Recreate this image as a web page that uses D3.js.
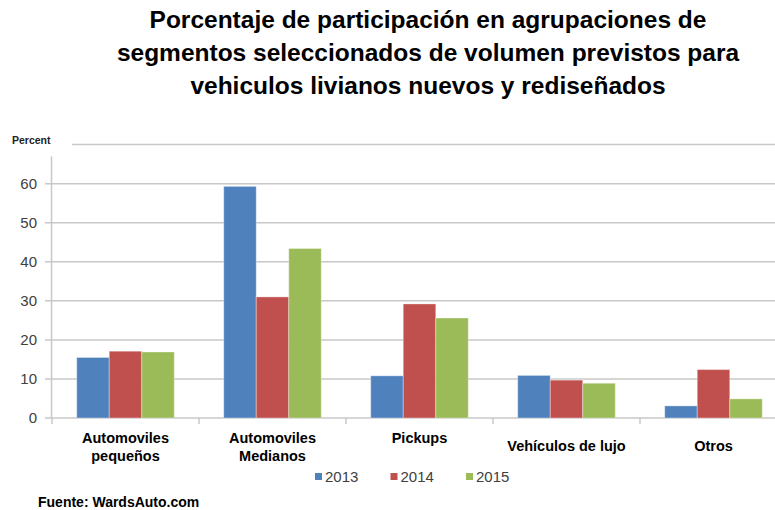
<!DOCTYPE html>
<html lang="es">
<head>
<meta charset="UTF-8">
<title>Porcentaje de participación</title>
<script src="https://d3js.org/d3.v7.min.js"></script>
<style>
  body { margin: 0; background: #fff; font-family: 'Liberation Sans', Arial, sans-serif; }
  svg { display: block; }
</style>
</head>
<body>
<svg id="chart" width="775" height="510"></svg>
<script>
// data
const categories = [["Automoviles", "pequeños"], ["Automoviles", "Medianos"], ["Pickups"], ["Vehículos de lujo"], ["Otros"]];
const years = ["2013", "2014", "2015"];
const v2013 = [15.5, 59.3, 10.8, 10.9, 3.1];
const v2014 = [17.1, 31.0, 29.2, 9.7, 12.4];
const v2015 = [16.9, 43.4, 25.6, 8.9, 4.9];
const yTicks = [0, 10, 20, 30, 40, 50, 60];
const titleLines = [
  "Porcentaje de participación en agrupaciones de",
  "segmentos seleccionados de volumen previstos para",
  "vehiculos livianos nuevos y rediseñados"
];
const colors = ["#4F81BD", "#C0504D", "#9BBB59"];

const series = [v2013, v2014, v2015];
const svg = d3.select("#chart");

// scales
const x0 = d3.scaleBand().domain(d3.range(categories.length)).range([52, 787]).padding(0);
const x1 = d3.scaleBand().domain(years).range([0, x0.bandwidth()]).paddingInner(0).paddingOuter(0.76);
const y = d3.scaleLinear().domain([0, 70]).range([418, 144.6]);

// title
svg.append("g").selectAll("text").data(titleLines).join("text")
  .attr("x", 428).attr("y", (d, i) => 28 + i * 33)
  .attr("text-anchor", "middle")
  .style("font-size", "24.5px").style("font-weight", "bold").style("fill", "#000")
  .text(d => d);

// gridlines
svg.append("g").selectAll("line").data(yTicks).join("line")
  .attr("x1", 45).attr("x2", 775)
  .attr("y1", d => y(d)).attr("y2", d => y(d))
  .attr("stroke", "#c8c8c8").attr("stroke-width", 1.5);
svg.append("line").attr("x1", 72).attr("x2", 775).attr("y1", y(70)).attr("y2", y(70))
  .attr("stroke", "#c8c8c8").attr("stroke-width", 1.5);

// y axis line + labels
svg.append("line").attr("x1", 51.5).attr("x2", 51.5).attr("y1", y(67)).attr("y2", y(0))
  .attr("stroke", "#c8c8c8").attr("stroke-width", 1.5);
svg.append("g").selectAll("text").data(yTicks).join("text")
  .attr("x", 37).attr("y", d => y(d)).attr("dy", "0.36em")
  .attr("text-anchor", "end")
  .style("font-size", "15px").style("fill", "#404040")
  .text(d => d);
svg.append("text").attr("x", 12).attr("y", 144)
  .style("font-size", "10.5px").style("font-weight", "bold").style("fill", "#222")
  .text("Percent");

// category ticks
svg.append("g").selectAll("line").data(d3.range(categories.length + 1)).join("line")
  .attr("x1", d => 52 + d * x0.step()).attr("x2", d => 52 + d * x0.step())
  .attr("y1", y(0)).attr("y2", y(0) + 6)
  .attr("stroke", "#c8c8c8").attr("stroke-width", 1.5);

// bars
const groups = svg.append("g").selectAll("g").data(categories.map((c, i) => i)).join("g")
  .attr("transform", i => `translate(${x0(i)},0)`);
groups.selectAll("rect").data(i => years.map((yr, k) => ({ yr, k, v: series[k][i] }))).join("rect")
  .attr("x", d => x1(d.yr)).attr("width", x1.bandwidth())
  .attr("y", d => y(d.v)).attr("height", d => y(0) - y(d.v))
  .attr("fill", d => colors[d.k])
  .attr("stroke", "rgba(255,255,255,0.35)").attr("stroke-width", 1);

// category labels
svg.append("g").selectAll("text").data(categories).join("text")
  .attr("x", (d, i) => x0(i) + x0.bandwidth() / 2)
  .attr("y", (d, i) => d.length === 2 || i === 2 ? 443 : 451)
  .attr("text-anchor", "middle")
  .style("font-size", "14.5px").style("font-weight", "bold").style("fill", "#000")
  .selectAll("tspan").data(d => d).join("tspan")
  .attr("x", function () { return this.parentNode.getAttribute("x"); })
  .attr("dy", (d, i) => i === 0 ? 0 : 18)
  .text(d => d);

// legend
const leg = svg.append("g").selectAll("g").data(years).join("g")
  .attr("transform", (d, i) => `translate(${315 + i * 75.5},477)`);
leg.append("rect").attr("x", 0).attr("y", -4).attr("width", 7).attr("height", 7)
  .attr("fill", (d, i) => colors[i]);
leg.append("text").attr("x", 10).attr("dy", "0.36em")
  .style("font-size", "15px").style("fill", "#404040")
  .text(d => d);

// source
svg.append("text").attr("x", 38).attr("y", 507)
  .style("font-size", "14px").style("font-weight", "bold").style("fill", "#000")
  .text("Fuente: WardsAuto.com");
</script>
</body>
</html>
